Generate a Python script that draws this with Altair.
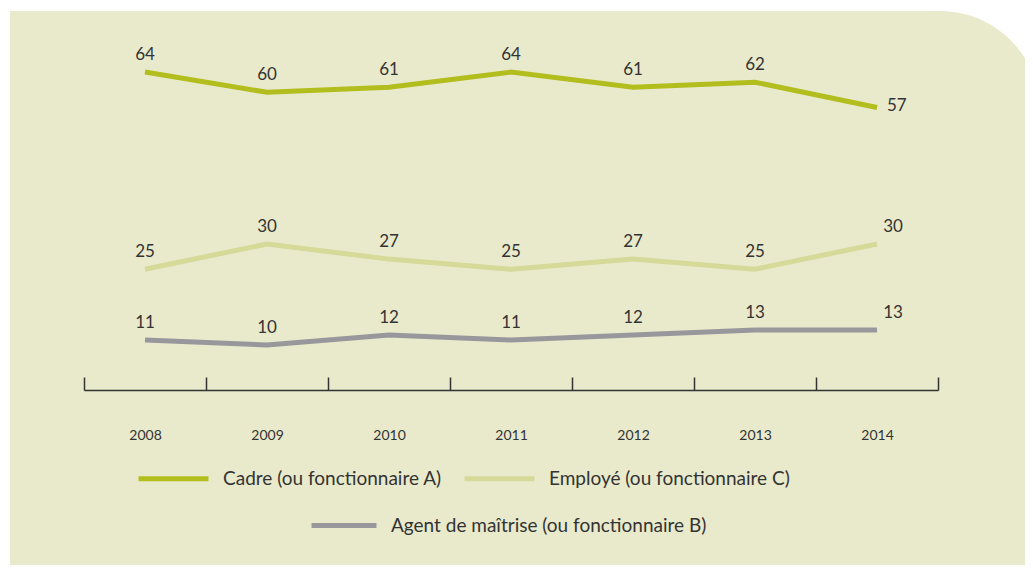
import altair as alt
import pandas as pd

years = ["2008", "2009", "2010", "2011", "2012", "2013", "2014"]
cadre = [64, 60, 61, 64, 61, 62, 57]
employe = [25, 30, 27, 25, 27, 25, 30]
agent = [11, 10, 12, 11, 12, 13, 13]

s_cadre = "Cadre (ou fonctionnaire A)"
s_employe = "Employé (ou fonctionnaire C)"
s_agent = "Agent de maîtrise (ou fonctionnaire B)"

rows = []
for name, vals in [(s_cadre, cadre), (s_employe, employe), (s_agent, agent)]:
    for y, v in zip(years, vals):
        rows.append({"year": y, "value": v, "serie": name})
df = pd.DataFrame(rows)

FONT = "Lato"
TXT = "#333333"
BG = "#E9EACC"

x_enc = alt.X("year:O", bandPosition=0.5,
              scale=alt.Scale(type="band", range=[76, 930], paddingInner=0, paddingOuter=0),
              axis=alt.Axis(orient="top", offset=-382, title=None, tickBand="extent",
                            tickSize=13, tickColor="#333333", tickWidth=1.5,
                            domainColor="#333333", domainWidth=1.5, zindex=2,
                            labelFont=FONT, labelFontSize=14, labelColor=TXT,
                            labelPadding=-62, labelBaseline="alphabetic", labelAngle=0))
y_enc = alt.Y("value:Q", scale=alt.Scale(domain=[0, 70], range=[387.6, 33.75]), axis=None)

base = alt.Chart(df)

bg = alt.Chart(alt.Data(values=[{}])).mark_rect(color=BG, cornerRadiusTopRight=100).encode(
    x=alt.value(2), x2=alt.value(1032), y=alt.value(3), y2=alt.value(600))

leg_common = dict(title=None, orient="none", direction="horizontal", symbolType="stroke",
                  symbolStrokeWidth=5, labelFont=FONT, labelFontSize=19,
                  labelColor=TXT, labelOffset=12, padding=0, labelLimit=0)

lines_ac = base.transform_filter(alt.datum.serie != s_agent).mark_line(strokeWidth=5).encode(
    x=x_enc, y=y_enc,
    color=alt.Color("serie:N", sort=[s_cadre, s_employe],
                    scale=alt.Scale(domain=[s_cadre, s_employe], range=["#B2BD1E", "#D5DA98"]),
                    legend=alt.Legend(legendX=128, legendY=433, columnPadding=12,
                                      symbolSize=4900, **leg_common)))

lines_b = base.transform_filter(alt.datum.serie == s_agent).mark_line(strokeWidth=5).encode(
    x=x_enc, y=y_enc,
    stroke=alt.Stroke("serie:N",
                      scale=alt.Scale(domain=[s_agent], range=["#98989C"]),
                      legend=alt.Legend(legendX=301, legendY=482.5, symbolSize=4225,
                                        **leg_common)))

lab_mid = base.transform_filter(alt.datum.year != "2014").mark_text(
    font=FONT, fontSize=17, color=TXT, dy=-17, baseline="middle").encode(
    x=x_enc, y=y_enc, text="value:Q")

lab_end = base.transform_filter(
    (alt.datum.year == "2014") & (alt.datum.serie != s_cadre)).mark_text(
    font=FONT, fontSize=17, color=TXT, dx=16, dy=-17, baseline="middle").encode(
    x=x_enc, y=y_enc, text="value:Q")

lab_end_c = base.transform_filter(
    (alt.datum.year == "2014") & (alt.datum.serie == s_cadre)).mark_text(
    font=FONT, fontSize=17, color=TXT, dx=10, dy=-1, align="left", baseline="middle").encode(
    x=x_enc, y=y_enc, text="value:Q")

chart = alt.layer(bg, lines_ac, lines_b, lab_mid, lab_end, lab_end_c).properties(
    width=1017, height=557, padding=0, autosize=alt.AutoSizeParams(type="none"),
    background="white"
).resolve_scale(color="independent").configure_view(strokeWidth=0, fill=None)

chart.save("out.html", embed_options={"renderer": "svg", "actions": False})
